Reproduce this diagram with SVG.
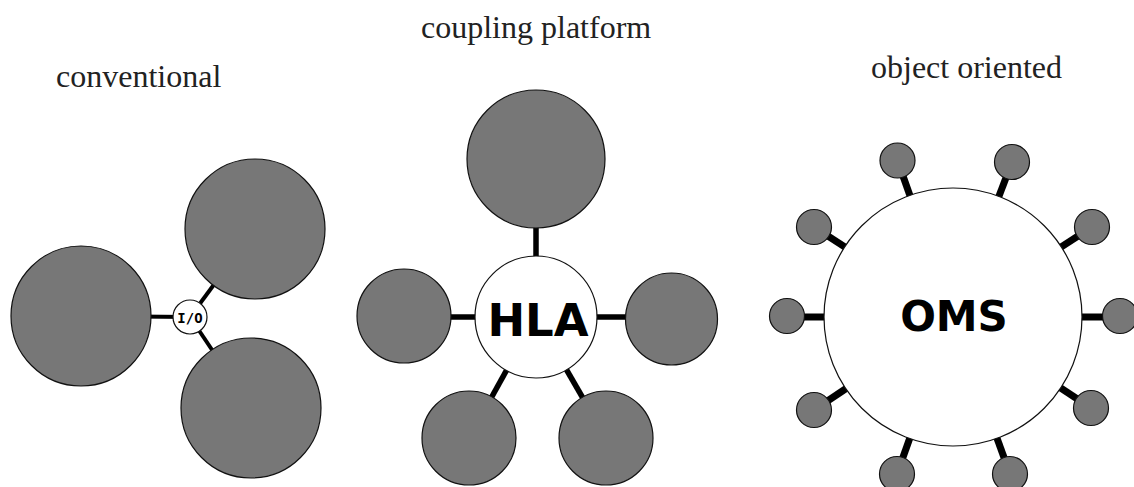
<svg xmlns="http://www.w3.org/2000/svg" width="1134" height="487" viewBox="0 0 1134 487">
<style>
.title{font-family:"Liberation Serif","Times New Roman",serif;font-size:32px;fill:#222}
.sat{fill:#777;stroke:#111;stroke-width:1.2}
.hub{fill:#fff;stroke:#111;stroke-width:1.2}
.lbl{font-family:"DejaVu Sans",Verdana,sans-serif;font-weight:bold;fill:#000;text-anchor:middle}
.c1{stroke:#000;stroke-width:4}
.c2{stroke:#000;stroke-width:5.5}
.c3{stroke:#000;stroke-width:7}
</style>
<rect width="1134" height="487" fill="#fff"/>
<g id="titles">
<text class="title" x="56" y="87">conventional</text>
<text class="title" x="421" y="38">coupling platform</text>
<text class="title" x="871" y="78">object oriented</text>
</g>
<g id="connectors">
<line class="c1" x1="81" y1="316" x2="190" y2="317"/>
<line class="c1" x1="190" y1="317" x2="255" y2="229"/>
<line class="c1" x1="190" y1="317" x2="251" y2="408"/>
<line class="c2" x1="536" y1="317" x2="536" y2="159"/>
<line class="c2" x1="536" y1="317" x2="404" y2="317"/>
<line class="c2" x1="536" y1="317" x2="671" y2="317"/>
<line class="c2" x1="536" y1="317" x2="469" y2="438"/>
<line class="c2" x1="536" y1="317" x2="606" y2="438"/>
<line class="c3" x1="953" y1="317" x2="897.5" y2="160.5"/>
<line class="c3" x1="953" y1="317" x2="1012" y2="162"/>
<line class="c3" x1="953" y1="317" x2="814" y2="227"/>
<line class="c3" x1="953" y1="317" x2="1092" y2="227"/>
<line class="c3" x1="953" y1="317" x2="787" y2="317"/>
<line class="c3" x1="953" y1="317" x2="1120" y2="317"/>
<line class="c3" x1="953" y1="317" x2="814" y2="410"/>
<line class="c3" x1="953" y1="317" x2="1091" y2="408"/>
<line class="c3" x1="953" y1="317" x2="897" y2="474"/>
<line class="c3" x1="953" y1="317" x2="1010" y2="474"/>
</g>
<g id="conv-left"><circle class="sat" cx="81" cy="316" r="70"/></g>
<g id="conv-top"><circle class="sat" cx="255" cy="229" r="70"/></g>
<g id="conv-bottom"><circle class="sat" cx="251" cy="408" r="70"/></g>
<g id="io"><circle class="hub" cx="190" cy="317" r="17"/><text x="190" y="323" font-family="'DejaVu Sans Mono','Liberation Mono',monospace" font-weight="bold" font-size="14" text-anchor="middle">I/O</text></g>
<g id="hla-top"><circle class="sat" cx="536" cy="159" r="69"/></g>
<g id="hla-left"><circle class="sat" cx="404" cy="316" r="47"/></g>
<g id="hla-right"><circle class="sat" cx="671.5" cy="319" r="46"/></g>
<g id="hla-bl"><circle class="sat" cx="469" cy="438" r="47"/></g>
<g id="hla-br"><circle class="sat" cx="606" cy="438" r="47"/></g>
<g id="hla"><circle class="hub" cx="536" cy="317" r="61"/><text class="lbl" x="538" y="336" font-size="45">HLA</text></g>
<g id="oms-1"><circle class="sat" cx="897.5" cy="160.5" r="17.5"/></g>
<g id="oms-2"><circle class="sat" cx="1012" cy="162" r="17.5"/></g>
<g id="oms-3"><circle class="sat" cx="814" cy="227" r="17.5"/></g>
<g id="oms-4"><circle class="sat" cx="1092" cy="227" r="17.5"/></g>
<g id="oms-5"><circle class="sat" cx="787" cy="316" r="17.5"/></g>
<g id="oms-6"><circle class="sat" cx="1120" cy="316" r="17.5"/></g>
<g id="oms-7"><circle class="sat" cx="814" cy="410" r="17.5"/></g>
<g id="oms-8"><circle class="sat" cx="1091" cy="408" r="17.5"/></g>
<g id="oms-9"><circle class="sat" cx="897" cy="474" r="17.5"/></g>
<g id="oms-10"><circle class="sat" cx="1010" cy="474" r="17.5"/></g>
<g id="oms"><circle class="hub" cx="953" cy="317" r="129"/><text class="lbl" x="954" y="331" font-size="42">OMS</text></g>
</svg>
